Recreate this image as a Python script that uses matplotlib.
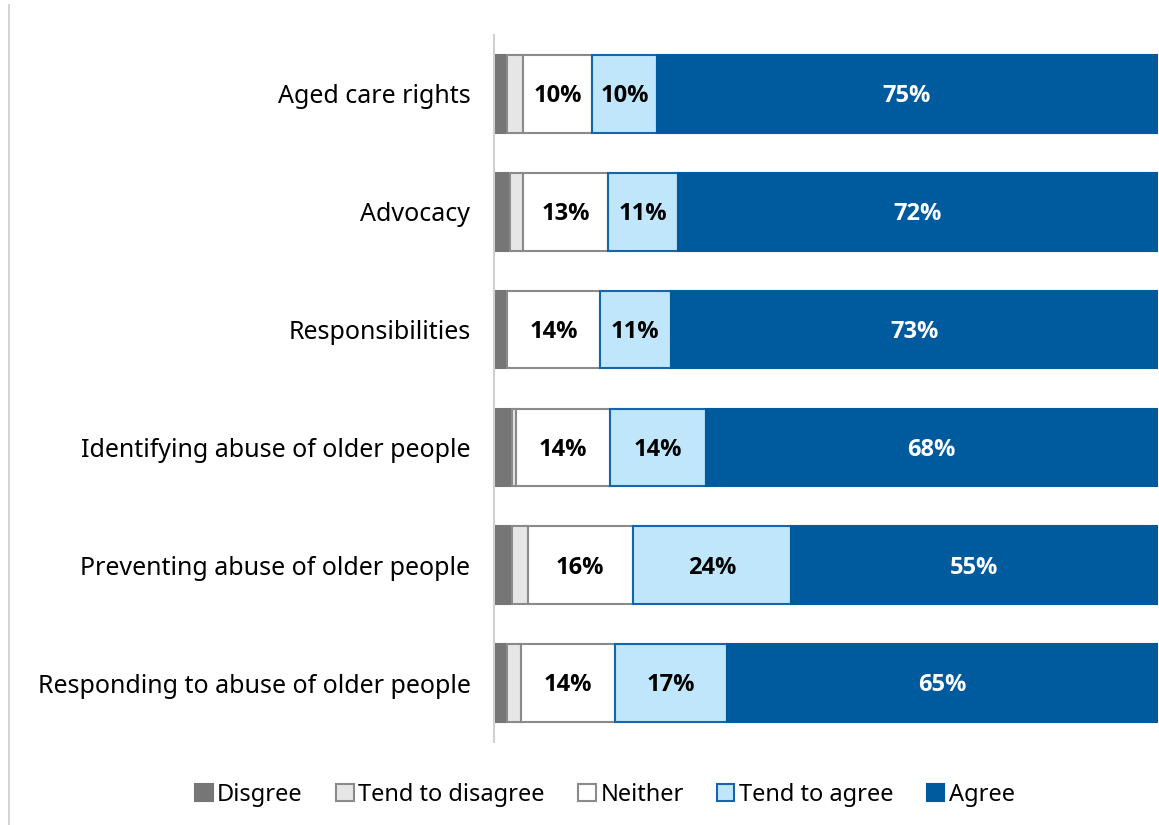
import matplotlib
matplotlib.use("Agg")
import matplotlib.pyplot as plt
import numpy as np
from matplotlib.lines import Line2D

plt.rcParams["font.family"] = ["Noto Sans", "DejaVu Sans"]

CATEGORIES = [
    "Aged care rights",
    "Advocacy",
    "Responsibilities",
    "Identifying abuse of older people",
    "Preventing abuse of older people",
    "Responding to abuse of older people",
]
SERIES = ["Disgree", "Tend to disagree", "Neither", "Tend to agree", "Agree"]

disagree = [2.0, 2.4, 2.0, 2.7, 2.7, 2.0]
tend_disagree = [2.4, 2.0, 0.0, 0.6, 2.4, 2.0]
neither = [10.4, 12.7, 13.9, 14.2, 15.8, 14.2]
tend_agree = [9.8, 10.6, 10.7, 14.4, 23.9, 16.9]
agree = [75.2, 72.3, 73.4, 68.0, 55.1, 64.9]

FACES = ["#767676", "#e6e6e6", "#ffffff", "#c0e6fb", "#005a9e"]
EDGES = ["#767676", "#8a8a8a", "#8a8a8a", "#1565ad", "#005a9e"]
LABELLED = [False, False, True, True, True]
TEXT_COL = ["black", "black", "black", "black", "white"]

fig = plt.figure(figsize=(11.59, 8.25), dpi=100)
ax = fig.add_axes([494 / 1159, 1 - 742 / 825, 664 / 1159, (742 - 35) / 825])

y = np.arange(len(CATEGORIES))
left = np.zeros(len(CATEGORIES))
values = [disagree, tend_disagree, neither, tend_agree, agree]
for i, vals in enumerate(values):
    vals = np.array(vals)
    ax.barh(y, vals, left=left, height=0.66, color=FACES[i],
            edgecolor=EDGES[i], linewidth=1.5, label=SERIES[i])
    if LABELLED[i]:
        for yy, l, v in zip(y, left, vals):
            ax.text(l + v / 2, yy + 0.02, f"{v:.0f}%", ha="center", va="center",
                    fontsize=17, fontweight="bold", color=TEXT_COL[i],
                    family=["Open Sans", "DejaVu Sans"])
    left += vals

ax.set_xlim(0, 100)
ax.set_ylim(len(CATEGORIES) - 0.5, -0.5)
ax.set_yticks(y)
ax.set_yticklabels(CATEGORIES, fontsize=18)
ax.tick_params(axis="y", length=0, pad=17)
ax.set_xticks([])
for side in ["top", "right", "bottom"]:
    ax.spines[side].set_visible(False)
ax.spines["left"].set_color("#d0d0d0")
ax.spines["left"].set_linewidth(1.5)

# chart frame edge on the left
fig.add_artist(Line2D([9 / 1159, 9 / 1159], [0, 1 - 5 / 825],
                      transform=fig.transFigure, color="#cccccc", linewidth=1.2))

handles, labels = ax.get_legend_handles_labels()
fig.legend(handles, labels, loc="center", bbox_to_anchor=(605 / 1159, 1 - 795 / 825),
           ncol=5, frameon=False, fontsize=17, handlelength=0.75, handleheight=0.75,
           handletextpad=0.2, columnspacing=1.4)

fig.savefig("out.png", dpi=100)
